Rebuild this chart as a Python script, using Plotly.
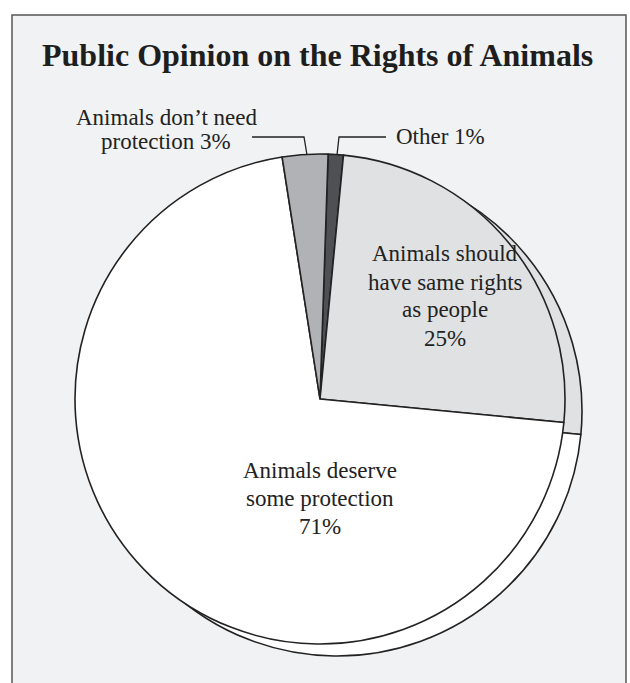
import plotly.graph_objects as go

# ---- data ----
labels = ["Other", "Animals should have same rights as people",
          "Animals deserve some protection", "Animals don't need protection"]
values = [1, 25, 71, 3]
slice_colors = ["#4e5053", "#e0e1e3", "#ffffff", "#b1b2b5"]
title_text = "Public Opinion on the Rights of Animals"
label_texts = ["Animals don’t need<br>protection 3%", "Other 1%",
               "Animals should<br>have same rights<br>as people<br>25%",
               "Animals deserve<br>some protection<br>71%"]

W, H = 630, 683


def px(x):
    return x / W


def py(y):
    return 1 - y / H


# pie geometry (pixels)
cx, cy, r = 320, 399, 245
dx, dy = 17, 12
rot = 1.9

fig = go.Figure()


def add_pie(ox, oy):
    fig.add_trace(go.Pie(
        labels=labels, values=values, sort=False, direction="clockwise",
        rotation=rot, textinfo="none", hoverinfo="skip", showlegend=False,
        marker=dict(colors=slice_colors, line=dict(color="#222222", width=1.6)),
        domain=dict(x=[px(cx + ox - r), px(cx + ox + r)],
                    y=[py(cy + oy + r), py(cy + oy - r)]),
    ))


add_pie(dx, dy)   # extruded edge behind
add_pie(0, 0)     # main face

font_family = "Liberation Serif, Times New Roman, serif"

shapes = [
    dict(type="rect", xref="paper", yref="paper", x0=px(12), x1=px(626),
         y0=py(700), y1=py(15), fillcolor="#f1f2f4",
         line=dict(color="#555555", width=1.5), layer="below"),
]


def path(points):
    return "M " + " L ".join(f"{px(x)},{py(y)}" for x, y in points)


shapes.append(dict(type="path", xref="paper", yref="paper",
                   path=path([(252, 137), (304, 137), (307, 155)]),
                   line=dict(color="#222222", width=1.3)))
shapes.append(dict(type="path", xref="paper", yref="paper",
                   path=path([(337, 155), (339, 137), (386, 137)]),
                   line=dict(color="#222222", width=1.3)))

# (center x, first line center y, line spacing)
ann_pos = [(166, 117, 25), (440, 136, 25), (445, 254, 28), (320, 470, 28)]
annotations = [
    dict(text="<b>" + title_text + "</b>", x=px(317), y=py(55), xref="paper", yref="paper",
         showarrow=False, font=dict(family=font_family, size=32, color="#1e1e1e"),
         xanchor="center", yanchor="middle"),
]
for t, (x, y, sp) in zip(label_texts, ann_pos):
    for i, line in enumerate(t.split("<br>")):
        annotations.append(dict(text=line, x=px(x), y=py(y + i * sp), xref="paper", yref="paper",
                                showarrow=False, align="center",
                                font=dict(family=font_family, size=23, color="#222222"),
                                xanchor="center", yanchor="middle"))

fig.update_layout(width=W, height=H, autosize=False,
                  margin=dict(l=0, r=0, t=0, b=0),
                  paper_bgcolor="#ffffff", plot_bgcolor="#ffffff",
                  shapes=shapes, annotations=annotations)

fig.write_html("out.html")
